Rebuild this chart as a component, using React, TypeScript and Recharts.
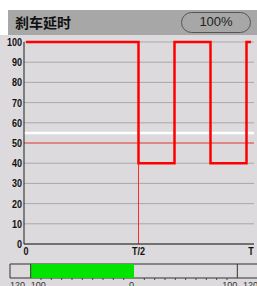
import { LineChart, Line, XAxis, YAxis, CartesianGrid, ReferenceLine, ReferenceArea, BarChart, Bar } from 'recharts';

// step signal over one period T (x as a fraction of T)
const stepTimes = [0, 0.5, 0.66, 0.82, 0.98, 1];
const stepLevels = [100, 40, 100, 40, 100, 100];
const yTicks = [0, 10, 20, 30, 40, 50, 60, 70, 80, 90, 100];
const xTicks = [0, 0.5, 1];
const xTickLabels = ['0', 'T/2', 'T'];
const whiteLevel = 55;
const redLevel = 50;
const halfTime = 0.5;

// bottom gauge
const gaugeRange = [-100, 0];
const gaugeTicks = [-120, -100, -90, -80, -70, -60, -50, -40, -30, -20, -10, 0, 10, 20, 30, 40, 50, 60, 70, 80, 90, 100, 120];
const gaugeLabels = [-120, -100, 0, 100, 120];

const stepData = stepTimes.map((t, i) => ({ t, v: stepLevels[i] }));
const gaugeData = [{ name: 'brake', range: gaugeRange }];

const tickFont = "'Liberation Sans', 'DejaVu Sans', sans-serif";

// narrow bold labels like the device font
function YTick(props: any) {
  const { x, y, payload } = props;
  return (
    <text transform={`translate(${x},${y}) scale(0.82,1)`} textAnchor="end" dy="0.36em" fontSize={11} fontWeight="bold" fill="#111" fontFamily={tickFont}>
      {payload.value}
    </text>
  );
}

function XTick(props: any) {
  const { x, y, payload } = props;
  return (
    <text transform={`translate(${x},${y}) scale(0.82,1)`} textAnchor="middle" dy="0.71em" fontSize={11} fontWeight="bold" fill="#111" fontFamily={tickFont}>
      {xTickLabels[xTicks.indexOf(payload.value)]}
    </text>
  );
}

function GaugeTick(props: any) {
  const { x, y, payload } = props;
  const v = payload.value;
  const major = gaugeLabels.includes(v);
  return (
    <g>
      {!major && <line x1={x} x2={x} y1={y} y2={y + 2} stroke="#444" />}
      {major && (
        <text x={x} y={y + 10} textAnchor={v < 0 ? 'start' : 'end'} fontSize={9} fill="#333" fontFamily="'Liberation Sans', sans-serif">
          {Math.abs(v)}
        </text>
      )}
    </g>
  );
}

export default function App() {
  return (
    <div style={{ position: 'fixed', left: 0, top: 0, width: 257, height: 286, background: '#fff', overflow: 'hidden' }}>
      <div style={{ position: 'absolute', left: 0, top: 35, width: 257, height: 251, background: '#dcdadc' }} />
      <div style={{ position: 'absolute', left: 8, top: 10, width: 249, height: 25, background: '#a7a7a7' }}>
        <span style={{ position: 'absolute', left: 7, top: 0, lineHeight: '25px', fontSize: 14, fontWeight: 'bold', color: '#111', fontFamily: "'Noto Sans CJK SC', sans-serif" }}>
          刹车延时
        </span>
        <div
          style={{
            position: 'absolute', left: 173, top: 2, width: 70, height: 21, boxSizing: 'border-box',
            border: '1.5px solid #555', borderRadius: 11, textAlign: 'center', lineHeight: '18px',
            fontSize: 13, color: '#222', fontFamily: "'Liberation Sans', sans-serif",
          }}
        >
          100%
        </div>
      </div>

      <div style={{ position: 'absolute', left: 0, top: 0 }}>
        <LineChart width={257} height={264} data={stepData} margin={{ top: 42, right: 3, bottom: 0, left: 0 }}>
          <CartesianGrid vertical={false} stroke="#a9a7a9" />
          <XAxis
            xAxisId="top" orientation="top" type="number" dataKey="t" domain={[0, 1]} height={0}
            tick={false} tickLine={false} padding={{ left: 2, right: 3 }}
            axisLine={{ stroke: '#8a8a8a', strokeWidth: 2 }}
          />
          <XAxis
            type="number" dataKey="t" domain={[0, 1]} ticks={xTicks} interval={0} height={20}
            tickSize={0} tickMargin={3} padding={{ left: 2, right: 3 }}
            axisLine={{ stroke: '#222' }} tick={XTick}
          />
          <YAxis
            domain={[0, 100]} ticks={yTicks} interval={0} width={24} tickSize={0} tickMargin={2}
            axisLine={{ stroke: '#222' }} tick={YTick}
          />
          <YAxis
            yAxisId="right" orientation="right" width={0} domain={[0, 100]}
            tick={false} tickLine={false} axisLine={{ stroke: '#8a8a8a', strokeWidth: 2 }}
          />
          <ReferenceLine y={whiteLevel} stroke="#ffffff" strokeWidth={2.5} />
          <ReferenceLine y={redLevel} stroke="#ff4a4a" strokeWidth={1} />
          <ReferenceLine x={halfTime} stroke="#ff2a2a" strokeWidth={1} />
          <Line
            type="stepAfter" dataKey="v" stroke="#ff0000" strokeWidth={2.5} dot={false}
            strokeLinejoin="miter" isAnimationActive={false}
          />
        </LineChart>
      </div>

      <div style={{ position: 'absolute', left: 0, top: 256, width: 257, height: 30, overflow: 'hidden' }}>
        <BarChart width={262} height={40} layout="vertical" data={gaugeData} barCategoryGap={0} margin={{ top: 8, right: 4, bottom: 0, left: 10 }}>
          <XAxis
            type="number" domain={[-120, 120]} ticks={gaugeTicks} interval={0} height={18}
            axisLine={false} tickLine={false} tickSize={0} tickMargin={0} tick={GaugeTick}
          />
          <YAxis type="category" dataKey="name" hide />
          <Bar dataKey="range" fill="#00e400" isAnimationActive={false} />
          <ReferenceArea x1={-120} x2={120} fill="none" stroke="#333" strokeWidth={1} />
          <ReferenceLine x={-100} stroke="#333" />
          <ReferenceLine x={100} stroke="#333" />
        </BarChart>
      </div>
    </div>
  );
}
